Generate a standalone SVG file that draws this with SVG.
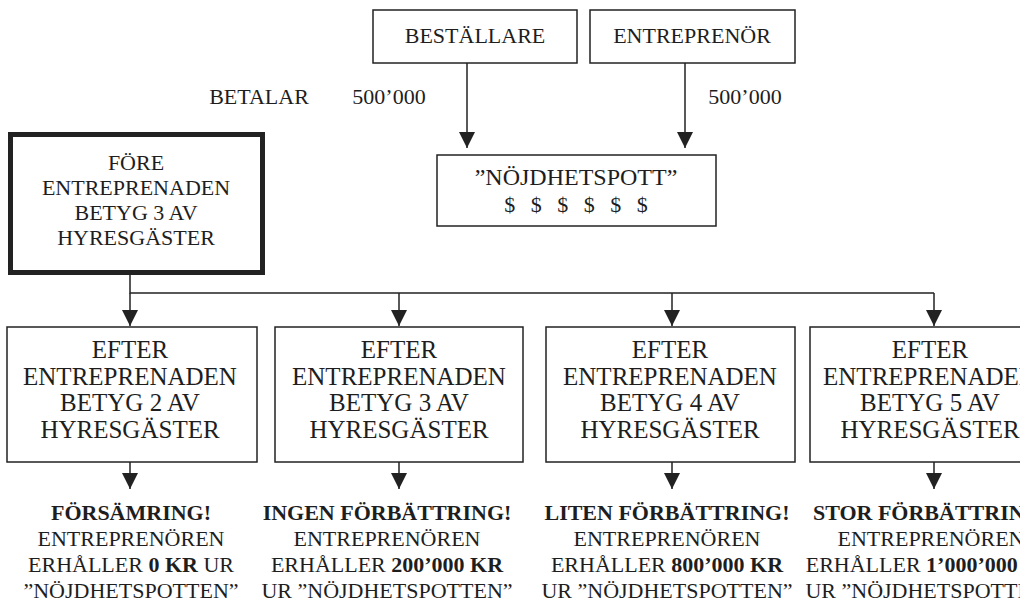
<svg xmlns="http://www.w3.org/2000/svg" width="1020" height="604" viewBox="0 0 1020 604">
  <style>
    .box { fill: #ffffff; stroke: #222222; stroke-width: 1.5; }
    .thick { fill: #ffffff; stroke: #222222; stroke-width: 5; }
    .wire { fill: none; stroke: #222222; stroke-width: 1.5; }
    text { font-family: "Liberation Serif", "Times New Roman", serif; fill: #1e1e1e; text-anchor: middle; }
    .t22 { font-size: 22px; }
    .t24 { font-size: 24px; }
    .t25 { font-size: 25px; }
    .b { font-weight: bold; }
  </style>
  <defs>
    <marker id="head" viewBox="0 0 16 16" markerWidth="16" markerHeight="16" refX="16" refY="8" orient="auto" markerUnits="userSpaceOnUse">
      <path d="M0,0 L16,8 L0,16 Z" fill="#222222"/>
    </marker>
  </defs>

  <rect width="1020" height="604" fill="#ffffff"/>

  <!-- connectors -->
  <g id="connectors">
    <line class="wire" x1="467" y1="63" x2="467" y2="148" marker-end="url(#head)"/>
    <line class="wire" x1="685" y1="63" x2="685" y2="148" marker-end="url(#head)"/>
    <polyline class="wire" points="130,275 130,293 934,293"/>
    <line class="wire" x1="130" y1="293" x2="130" y2="326" marker-end="url(#head)"/>
    <line class="wire" x1="399" y1="293" x2="399" y2="326" marker-end="url(#head)"/>
    <line class="wire" x1="672" y1="293" x2="672" y2="326" marker-end="url(#head)"/>
    <line class="wire" x1="934" y1="293" x2="934" y2="326" marker-end="url(#head)"/>
    <line class="wire" x1="130" y1="462" x2="130" y2="489" marker-end="url(#head)"/>
    <line class="wire" x1="399" y1="462" x2="399" y2="489" marker-end="url(#head)"/>
    <line class="wire" x1="672" y1="462" x2="672" y2="489" marker-end="url(#head)"/>
    <line class="wire" x1="934" y1="462" x2="934" y2="489" marker-end="url(#head)"/>
  </g>

  <!-- payers -->
  <g id="bestallare">
    <rect class="box" x="373" y="10" width="204" height="53"/>
    <text class="t22" x="475" y="43">BESTÄLLARE</text>
  </g>
  <g id="entreprenor">
    <rect class="box" x="590" y="10" width="205" height="53"/>
    <text class="t22" x="692" y="43">ENTREPRENÖR</text>
  </g>

  <g id="betalar">
    <text class="t22" x="259" y="104">BETALAR</text>
    <text class="t22" x="389" y="104">500’000</text>
    <text class="t22" x="745" y="104">500’000</text>
  </g>

  <!-- the pot -->
  <g id="pott">
    <rect class="box" x="437" y="155" width="279" height="71"/>
    <text class="t24" x="576" y="185">”NÖJDHETSPOTT”</text>
    <text class="t22" x="576" y="212" style="word-spacing:10px">$ $ $ $ $ $</text>
  </g>

  <!-- rating before -->
  <g id="fore">
    <rect class="thick" x="10.5" y="134.5" width="252" height="138"/>
    <text class="t22" x="136" y="170">FÖRE</text>
    <text class="t22" x="136" y="195">ENTREPRENADEN</text>
    <text class="t22" x="136" y="220">BETYG 3 AV</text>
    <text class="t22" x="136" y="245">HYRESGÄSTER</text>
  </g>

  <!-- ratings after -->
  <g id="efter2">
    <rect class="box" x="7" y="327" width="250" height="135"/>
    <text class="t25" x="130" y="358">EFTER</text>
    <text class="t25" x="130" y="385">ENTREPRENADEN</text>
    <text class="t25" x="130" y="411">BETYG 2 AV</text>
    <text class="t25" x="130" y="438">HYRESGÄSTER</text>
  </g>
  <g id="efter3">
    <rect class="box" x="275" y="327" width="248" height="135"/>
    <text class="t25" x="399" y="358">EFTER</text>
    <text class="t25" x="399" y="385">ENTREPRENADEN</text>
    <text class="t25" x="399" y="411">BETYG 3 AV</text>
    <text class="t25" x="399" y="438">HYRESGÄSTER</text>
  </g>
  <g id="efter4">
    <rect class="box" x="546" y="327" width="249" height="135"/>
    <text class="t25" x="670" y="358">EFTER</text>
    <text class="t25" x="670" y="385">ENTREPRENADEN</text>
    <text class="t25" x="670" y="411">BETYG 4 AV</text>
    <text class="t25" x="670" y="438">HYRESGÄSTER</text>
  </g>
  <!-- this box runs past the right edge of the sheet -->
  <g id="efter5">
    <rect class="box" x="810" y="327" width="250" height="135"/>
    <text class="t25" x="930" y="358">EFTER</text>
    <text class="t25" x="930" y="385">ENTREPRENADEN</text>
    <text class="t25" x="930" y="411">BETYG 5 AV</text>
    <text class="t25" x="930" y="438">HYRESGÄSTER</text>
  </g>

  <!-- outcomes -->
  <g id="utfall2">
    <text class="t22 b" x="131" y="520">FÖRSÄMRING!</text>
    <text class="t22" x="131" y="546">ENTREPRENÖREN</text>
    <text class="t22" x="131" y="572">ERHÅLLER <tspan class="b">0 KR</tspan> UR</text>
    <text class="t22" x="131" y="598">”NÖJDHETSPOTTEN”</text>
  </g>
  <g id="utfall3">
    <text class="t22 b" x="387" y="520">INGEN FÖRBÄTTRING!</text>
    <text class="t22" x="387" y="546">ENTREPRENÖREN</text>
    <text class="t22" x="387" y="572">ERHÅLLER <tspan class="b">200’000 KR</tspan></text>
    <text class="t22" x="387" y="598">UR ”NÖJDHETSPOTTEN”</text>
  </g>
  <g id="utfall4">
    <text class="t22 b" x="667" y="520">LITEN FÖRBÄTTRING!</text>
    <text class="t22" x="667" y="546">ENTREPRENÖREN</text>
    <text class="t22" x="667" y="572">ERHÅLLER <tspan class="b">800’000 KR</tspan></text>
    <text class="t22" x="667" y="598">UR ”NÖJDHETSPOTTEN”</text>
  </g>
  <g id="utfall5">
    <text class="t22 b" x="931" y="520">STOR FÖRBÄTTRING!</text>
    <text class="t22" x="931" y="546">ENTREPRENÖREN</text>
    <text class="t22" x="931" y="572">ERHÅLLER <tspan class="b">1’000’000 KR</tspan></text>
    <text class="t22" x="931" y="598">UR ”NÖJDHETSPOTTEN”</text>
  </g>
</svg>
